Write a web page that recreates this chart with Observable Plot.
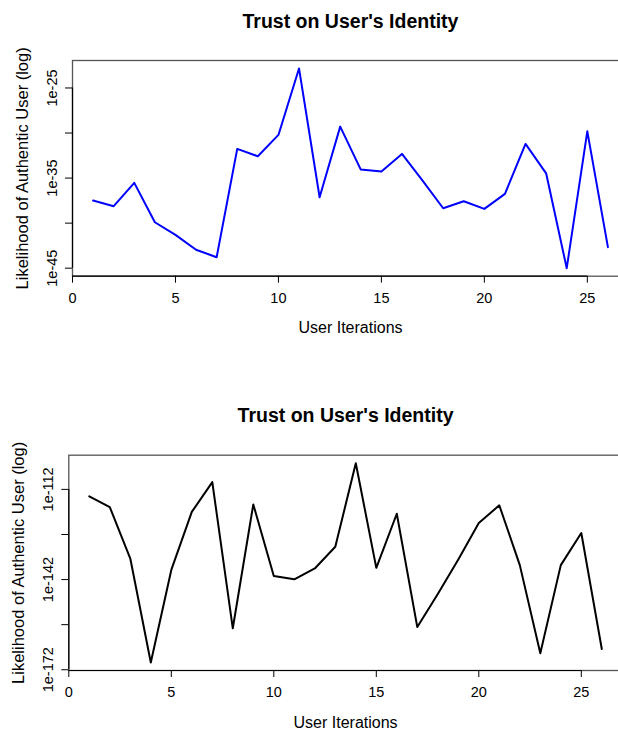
<!DOCTYPE html>
<html><head><meta charset="utf-8">
<script src="https://cdn.jsdelivr.net/npm/d3@7"></script>
<script src="https://cdn.jsdelivr.net/npm/@observablehq/plot@0.6"></script>
<style>
html,body{margin:0;padding:0;background:#fff;overflow:hidden;}
#wrap{position:relative;width:618px;height:731px;overflow:hidden;background:#fff;}
.panel{position:absolute;left:0;}
</style></head><body><div id="wrap"></div>
<script>
// ---- data (log10 of likelihood) ----
const iterations = [1,2,3,4,5,6,7,8,9,10,11,12,13,14,15,16,17,18,19,20,21,22,23,24,25,26];
const topExponents = [-37.49,-38.12,-35.53,-39.9,-41.3,-42.96,-43.78,-31.76,-32.58,-30.21,-22.83,-37.13,-29.29,-34.06,-34.28,-32.32,-35.28,-38.35,-37.57,-38.42,-36.75,-31.21,-34.47,-45.0,-29.81,-42.67];
const bottomExponents = [-114.3,-117.9,-135.0,-169.6,-138.8,-119.5,-109.6,-158.2,-117.0,-140.8,-141.9,-138.3,-131.1,-103.3,-138.1,-120.1,-157.8,-146.8,-135.3,-123.2,-117.3,-137.2,-166.5,-137.2,-126.5,-165.1];
const xTicks = [0,5,10,15,20,25];
const topYTicks = [-45,-40,-35,-30,-25];
const topYLabelled = [-45,-35,-25];
const bottomYTicks = [-172,-157,-142,-127,-112];
const bottomYLabelled = [-172,-142,-112];
const titleText = "Trust on User's Identity";
const xLabelText = "User Iterations";
const yLabelText = "Likelihood of Authentic User (log)";

const font = '"Liberation Sans", Arial, Helvetica, sans-serif';

function panel({exps, color, yDomain, yTicks, yLabelled, top, marginTop, marginBottom, marginLeft, marginRight}) {
  const data = iterations.map((it, i) => ({iter: it, value: exps[i]}));
  const labelled = new Set(yLabelled);
  const chart = Plot.plot({
    width: 640,
    height: 340,
    marginTop, marginBottom, marginLeft, marginRight,
    style: {fontFamily: font, fontSize: "14px", color: "#000", background: "transparent", maxWidth: "none", overflow: "visible"},
    x: {domain: [0, 27]},
    y: {domain: yDomain},
    marks: [
      Plot.frame({stroke: "#555", strokeWidth: 1.3}),
      Plot.ruleY([yDomain[0]], {x1: xTicks[0], x2: xTicks[xTicks.length - 1], stroke: "#000", strokeWidth: 1.2}),
      Plot.ruleX([0], {y1: yTicks[0], y2: yTicks[yTicks.length - 1], stroke: "#000", strokeWidth: 1.2}),
      Plot.axisX(xTicks, {label: null, tickSize: 7, tickPadding: 9.5, fontSize: 14.5}),
      Plot.axisY(yTicks, {label: null, tickSize: 7, tickPadding: 8.5, tickRotate: -90, fontSize: 14.5,
        tickFormat: d => labelled.has(d) ? `1e${d}` : ""}),
      Plot.line(data, {x: "iter", y: "value", stroke: color, strokeWidth: 2}),
      Plot.text([titleText], {frameAnchor: "top", dy: -39, lineAnchor: "middle", textAnchor: "middle", fontWeight: "bold", fontSize: 19.5}),
      Plot.text([xLabelText], {frameAnchor: "bottom", dy: 52, lineAnchor: "middle", textAnchor: "middle", fontSize: 16}),
      Plot.text([yLabelText], {frameAnchor: "left", dx: -50, rotate: -90, lineAnchor: "middle", textAnchor: "middle", fontSize: 16.5})
    ]
  });
  chart.classList.add("panel");
  chart.style.top = top + "px";
  document.getElementById("wrap").appendChild(chart);
}

panel({exps: topExponents, color: "#0000ff", yDomain: [-45.89, -21.95], yTicks: topYTicks, yLabelled: topYLabelled,
  top: 0, marginTop: 60, marginBottom: 64.3, marginLeft: 72, marginRight: 12});
panel({exps: bottomExponents, color: "#000000", yDomain: [-172.25, -100.63], yTicks: bottomYTicks, yLabelled: bottomYLabelled,
  top: 395, marginTop: 59.7, marginBottom: 65, marginLeft: 68.3, marginRight: 18.2});
</script></body></html>
